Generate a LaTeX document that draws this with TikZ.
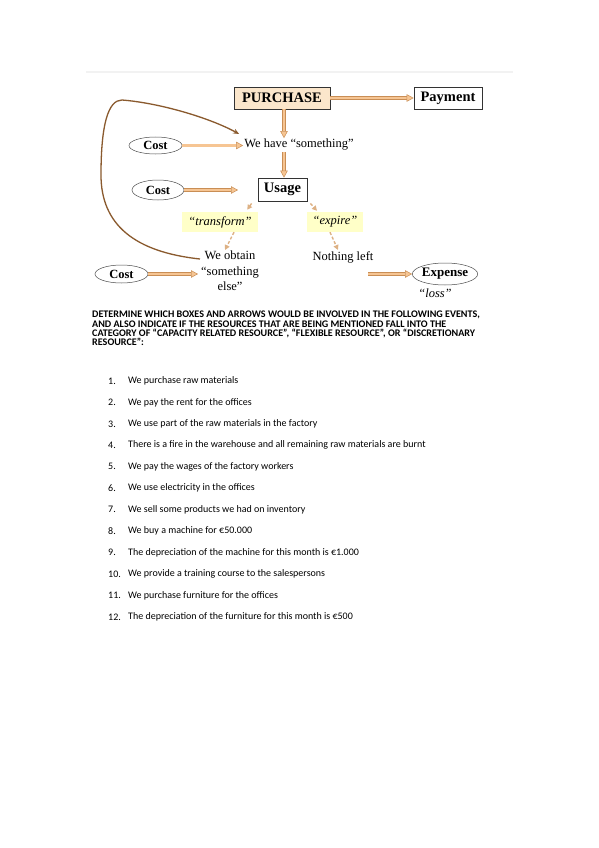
\documentclass[tikz,border=0pt]{standalone}
\usepackage{fontspec}
\setmainfont{Liberation Serif}
\newfontfamily\calibri{Carlito}
\usepackage{tikz}
\usetikzlibrary{arrows.meta,shapes.geometric}
\definecolor{peach}{HTML}{F6C593}
\definecolor{peachedge}{HTML}{C98E55}
\definecolor{purchasefill}{HTML}{FBE6CB}
\definecolor{labelfill}{HTML}{FFFFC8}
\definecolor{loopbrown}{HTML}{8A5A2E}
\tikzset{
    boxnode/.style={draw=black!80, line width=0.8pt, inner sep=0pt, font=\fontsize{14.5}{16}\selectfont\bfseries},
    costnode/.style={ellipse, draw=black!70, line width=0.5pt, inner sep=0pt, font=\fontsize{12.5}{14}\selectfont\bfseries},
    plaintext/.style={inner sep=1pt, font=\fontsize{12.5}{15.5}\selectfont},
    labelbox/.style={fill=labelfill, inner sep=0pt, font=\fontsize{12.5}{14}\selectfont\itshape},
    flowarrow/.style={draw=peachedge, double=peach, double distance=2.6pt, line width=0.5pt,
        -{Triangle[length=7pt, width=7.5pt, fill=peach]}},
    smallarrow/.style={draw=peach!90!black, line width=1.4pt, densely dashed,
        -{Triangle[length=5pt, width=5pt]}},
    itemtext/.style={anchor=west, inner sep=0pt, font=\calibri\fontsize{10}{11}\selectfont}
}

\begin{document}
\begin{tikzpicture}[x=1pt, y=-1pt]
    \useasboundingbox (0,0) rectangle (599,848);
    \fill[white] (0,0) rectangle (599,848);
    \draw[black!5, line width=2.5pt] (86,72) -- (513,72);

    % boxes
    \node[boxnode, fill=purchasefill, minimum width=96pt, minimum height=22pt] (purchase) at (282,98) {PURCHASE};
    \node[boxnode, minimum width=68pt, minimum height=22pt] (payment) at (448,98) {Payment};
    \node[plaintext] (have) at (299,145) {We have ``something''};
    \node[costnode, minimum width=53pt, minimum height=17pt] (cost1) at (155.5,145.5) {Cost};
    \node[boxnode, minimum width=49pt, minimum height=23pt] (usage) at (282.5,189.5) {Usage};
    \node[costnode, minimum width=52pt, minimum height=20pt] (cost2) at (158,190) {Cost};
    \coordinate (usagein) at (238,190);
    \node[labelbox, minimum width=76pt, minimum height=20pt] (transform) at (220,222) {``transform''};
    \node[labelbox, minimum width=56pt, minimum height=20pt] (expire) at (335,222) {``expire''};
    \node[plaintext, align=center, anchor=north] (obtain) at (230,250) {We obtain\\``something\\else''};
    \node[plaintext, anchor=north] (nothing) at (343,250) {Nothing left};
    \node[costnode, minimum width=53pt, minimum height=18pt] (cost3) at (121.5,274) {Cost};
    \node[costnode, minimum width=56pt, minimum height=22pt, font=\fontsize{13}{14}\selectfont\bfseries] (expense) at (445,274) {Expense};
    \node[plaintext, font=\fontsize{12.5}{14}\selectfont\itshape] (loss) at (435,293) {``loss''};
    \coordinate (expstart) at (368,274);
    \coordinate (obtainin) at (198,274);

    % arrows
    \draw[flowarrow] (purchase.east) -- (payment.west);
    \draw[flowarrow] ([xshift=2pt]purchase.south) -- ([xshift=2pt]purchase.south |- have.north);
    \draw[flowarrow] (cost1.east) -- (cost1.east -| have.west);
    \draw[flowarrow] ([xshift=1.5pt]usage.north |- have.south) -- ([xshift=1.5pt]usage.north);
    \draw[flowarrow] (cost2.east) -- (usagein);
    \draw[flowarrow] (cost3.east) -- (obtainin);
    \draw[flowarrow] (expstart) -- (expense.west);
    \draw[smallarrow] ([xshift=-6pt, yshift=-2pt]usage.south west) -- ([xshift=-11pt, yshift=2pt]transform.north east);
    \draw[smallarrow] ([xshift=14pt]transform.south) -- ([xshift=-5pt]obtain.north);
    \draw[smallarrow] ([xshift=3pt, yshift=-2pt]usage.south east) -- ([xshift=-18pt, yshift=1pt]expire.north);
    \draw[smallarrow] ([xshift=-5pt]expire.south) -- ([xshift=-5pt]nothing.north);

    % loop back
    \draw[loopbrown, line width=1.3pt, -{Stealth[length=6pt, width=5pt]}]
        ([yshift=-9pt]obtain.north west) .. controls (135,252) and (101,225) .. (101,175)
        .. controls (101,125) and (108,100) .. (122,100)
        .. controls (160,103) and (210,118) .. ([xshift=-4pt, yshift=11pt]have.west);

    % question
    \node[anchor=north west, inner sep=0pt, align=left,
          font=\calibri\fontsize{10.1}{9.2}\selectfont\bfseries] (question) at (92,311)
        {DETERMINE WHICH BOXES AND ARROWS WOULD BE INVOLVED IN THE FOLLOWING EVENTS,\\
         AND ALSO INDICATE IF THE RESOURCES THAT ARE BEING MENTIONED FALL INTO THE\\
         CATEGORY OF “CAPACITY RELATED RESOURCE”, “FLEXIBLE RESOURCE”, OR “DISCRETIONARY\\
         RESOURCE”:};

    % events
    \foreach \n/\t [count=\i] in {
        1./We purchase raw materials,
        2./We pay the rent for the offices,
        3./We use part of the raw materials in the factory,
        4./There is a fire in the warehouse and all remaining raw materials are burnt,
        5./We pay the wages of the factory workers,
        6./We use electricity in the offices,
        7./We sell some products we had on inventory,
        8./We buy a machine for €50.000,
        9./The depreciation of the machine for this month is €1.000,
        10./We provide a training course to the salespersons,
        11./We purchase furniture for the offices,
        12./The depreciation of the furniture for this month is €500}
    {
        \node[itemtext] (num\i) at (108,{381+(\i-1)*21.45}) {\n};
        \node[itemtext] (item\i) at (128,{381+(\i-1)*21.45}) {\t};
    }
\end{tikzpicture}
\end{document}
